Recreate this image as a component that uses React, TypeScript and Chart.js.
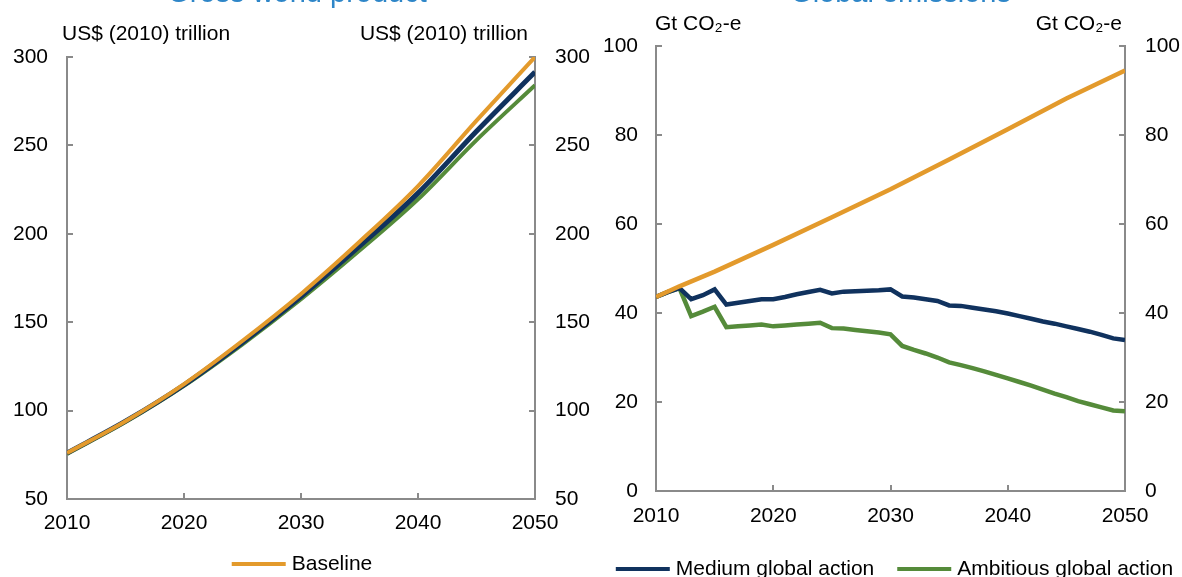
import React, { useEffect, useRef } from "react";
import { Chart, registerables } from "chart.js";

Chart.register(...registerables);

const FONT = "'Liberation Sans', Arial, sans-serif";
const AXIS_GREY = "#8a8a8a";
const ORANGE = "#E39A2C";
const NAVY = "#10325E";
const GREEN = "#558B3A";
const TITLE_BLUE = "#2E86C8";

// ---------- Data ----------
const xTickValues = [2010, 2020, 2030, 2040, 2050];
const gdpTickValues = [50, 100, 150, 200, 250, 300];
const emissionsTickValues = [0, 20, 40, 60, 80, 100];

const seriesLabels = ["Baseline", "Medium global action", "Ambitious global action"];

// Gross world product, US$ (2010) trillion
const gdpYears = [2010, 2015, 2020, 2025, 2030, 2035, 2040, 2045, 2050];
const gdpBaseline = [76, 94, 115, 139.5, 166, 195.5, 227, 264, 300];
const gdpMedium = [76, 94, 114.5, 138.5, 164.5, 193, 223, 258, 291.5];
const gdpAmbitious = [75.5, 93.5, 114, 137.5, 163, 190.5, 219.5, 253, 284];

// Global emissions, Gt CO2-e
const emissionsBaselineYears = [2010, 2012, 2015, 2020, 2025, 2030, 2035, 2040, 2045, 2050];
const emissionsBaseline = [43.6, 46.0, 49.3, 55.3, 61.5, 67.8, 74.5, 81.3, 88.2, 94.5];

const emissionsYears = [
  2010, 2011, 2012, 2013, 2014, 2015, 2016, 2017, 2018, 2019,
  2020, 2021, 2022, 2023, 2024, 2025, 2026, 2027, 2028, 2029,
  2030, 2031, 2032, 2033, 2034, 2035, 2036, 2037, 2038, 2039,
  2040, 2041, 2042, 2043, 2044, 2045, 2046, 2047, 2048, 2049, 2050,
];
const emissionsMedium = [
  43.6, 44.7, 45.6, 43.1, 44.0, 45.3, 41.9, 42.3, 42.7, 43.1,
  43.1, 43.6, 44.2, 44.7, 45.2, 44.4, 44.8, 44.9, 45.0, 45.1,
  45.3, 43.7, 43.5, 43.1, 42.7, 41.7, 41.6, 41.2, 40.8, 40.4,
  39.9, 39.3, 38.7, 38.1, 37.6, 37.0, 36.4, 35.8, 35.1, 34.3, 33.9,
];
const emissionsAmbitious = [
  43.6, 44.7, 45.6, 39.3, 40.3, 41.4, 36.8, 37.0, 37.2, 37.4,
  37.0, 37.2, 37.4, 37.6, 37.8, 36.6, 36.5, 36.2, 35.9, 35.6,
  35.2, 32.6, 31.7, 30.9, 30.0, 28.9, 28.3, 27.6, 26.9, 26.1,
  25.3, 24.5, 23.7, 22.8, 21.9, 21.1, 20.2, 19.5, 18.8, 18.1, 17.9,
];

const toPoints = (xs: number[], ys: number[]) => xs.map((x, i) => ({ x, y: ys[i] }));

// ---------- Plugin: title, unit labels, legend ----------
const panelText = {
  id: "panelText",
  afterDraw(chart: any, _args: any, opts: any) {
    const { ctx, chartArea } = chart;
    const cx = (chartArea.left + chartArea.right) / 2;
    ctx.save();
    // title (cut off at top of page, as in the reference)
    ctx.font = `29px ${FONT}`;
    ctx.fillStyle = TITLE_BLUE;
    ctx.textAlign = "center";
    ctx.textBaseline = "alphabetic";
    ctx.fillText(opts.title, cx + opts.titleShift, opts.titleBaseline);

    // unit labels
    ctx.font = `21px ${FONT}`;
    ctx.fillStyle = "#000";
    ctx.textBaseline = "middle";
    const uy = chartArea.top - opts.unitGap;
    ctx.textAlign = "left";
    ctx.fillText(opts.unit, chartArea.left - opts.unitInsetLeft, uy);
    ctx.textAlign = "right";
    ctx.fillText(opts.unit, chartArea.right - opts.unitInsetRight, uy);

    // legend
    const lineLen = 54;
    const textGap = 6;
    const itemGap = 23;
    const items = chart.data.datasets.filter((d: any) => opts.legendLabels.includes(d.label));
    const widths = items.map((d: any) => lineLen + textGap + ctx.measureText(d.label).width);
    const total = widths.reduce((a: number, b: number) => a + b, 0) + itemGap * (items.length - 1);
    let x = cx + opts.legendShift - total / 2;
    const ly = chart.height - opts.legendBottom;
    items.forEach((d: any, i: number) => {
      ctx.strokeStyle = d.borderColor;
      ctx.lineWidth = 4;
      ctx.lineCap = "butt";
      ctx.beginPath();
      ctx.moveTo(x, ly);
      ctx.lineTo(x + lineLen, ly);
      ctx.stroke();
      ctx.fillStyle = "#000";
      ctx.textAlign = "left";
      ctx.fillText(d.label, x + lineLen + textGap, ly);
      x += widths[i] + itemGap;
    });
    ctx.restore();
  },
};

function axisCommon(tickValues: number[], padding: number) {
  return {
    type: "linear" as const,
    afterBuildTicks: (axis: any) => {
      axis.ticks = tickValues.map((v) => ({ value: v }));
    },
    grid: {
      display: true,
      drawOnChartArea: false,
      drawTicks: true,
      tickLength: -6,
      color: AXIS_GREY,
      lineWidth: 2,
    },
    border: { display: true, color: AXIS_GREY, width: 2 },
    ticks: {
      padding,
      color: "#000",
      font: { size: 21, family: FONT },
      maxRotation: 0,
      autoSkip: false,
      callback: (v: any) => String(v),
    },
  };
}

function buildConfig(c: any) {
  return {
    type: "line" as const,
    data: { datasets: c.datasets },
    options: {
      animation: false,
      responsive: false,
      maintainAspectRatio: false,
      events: [],
      layout: { padding: { top: c.top, left: 0, right: 0, bottom: 0 } },
      elements: { point: { radius: 0 } },
      plugins: {
        legend: { display: false },
        tooltip: { enabled: false },
        title: { display: false },
        panelText: c.text,
      },
      scales: {
        x: {
          ...axisCommon(xTickValues, c.xPad),
          position: "bottom",
          min: 2010,
          max: 2050,
          afterFit: (s: any) => {
            s.height = c.xHeight;
          },
        },
        y: {
          ...axisCommon(c.yTicks, c.yPadL),
          position: "left",
          min: c.yMin,
          max: c.yMax,
          afterFit: (s: any) => {
            s.width = c.leftWidth;
          },
        },
        y2: {
          ...axisCommon(c.yTicks, c.yPadR),
          position: "right",
          min: c.yMin,
          max: c.yMax,
          afterFit: (s: any) => {
            s.width = c.rightWidth;
          },
        },
      },
    },
    plugins: [panelText],
  };
}

const gdpConfig = {
  top: 57,
  xHeight: 78,
  leftWidth: 67,
  rightWidth: 56,
  xPad: 18,
  yPadL: 25,
  yPadR: 26,
  yMin: 50,
  yMax: 300,
  yTicks: gdpTickValues,
  datasets: [
    { label: seriesLabels[0], data: toPoints(gdpYears, gdpBaseline), borderColor: ORANGE, backgroundColor: ORANGE, borderWidth: 4, cubicInterpolationMode: "monotone", yAxisID: "y" },
    { label: seriesLabels[1], data: toPoints(gdpYears, gdpMedium), borderColor: NAVY, backgroundColor: NAVY, borderWidth: 5, cubicInterpolationMode: "monotone", yAxisID: "y" },
    { label: seriesLabels[2], data: toPoints(gdpYears, gdpAmbitious), borderColor: GREEN, backgroundColor: GREEN, borderWidth: 4, cubicInterpolationMode: "monotone", yAxisID: "y" },
  ],
  text: {
    title: "Gross world product",
    titleShift: -4,
    titleBaseline: 1.5,
    unit: "US$ (2010) trillion",
    unitGap: 23,
    unitInsetLeft: 5,
    unitInsetRight: 7,
    legendLabels: [seriesLabels[0]],
    legendShift: 1,
    legendBottom: 13,
  },
};

const emissionsConfig = {
  top: 46,
  xHeight: 86,
  leftWidth: 65,
  rightWidth: 57,
  xPad: 19,
  yPadL: 24,
  yPadR: 26,
  yMin: 0,
  yMax: 100,
  yTicks: emissionsTickValues,
  datasets: [
    { label: seriesLabels[0], data: toPoints(emissionsBaselineYears, emissionsBaseline), borderColor: ORANGE, backgroundColor: ORANGE, borderWidth: 4.5, tension: 0, yAxisID: "y" },
    { label: seriesLabels[1], data: toPoints(emissionsYears, emissionsMedium), borderColor: NAVY, backgroundColor: NAVY, borderWidth: 4.5, tension: 0, yAxisID: "y" },
    { label: seriesLabels[2], data: toPoints(emissionsYears, emissionsAmbitious), borderColor: GREEN, backgroundColor: GREEN, borderWidth: 4.5, tension: 0, yAxisID: "y" },
  ],
  text: {
    title: "Global emissions",
    titleShift: 10,
    titleBaseline: 1.5,
    unit: "Gt CO\u2082-e",
    unitGap: 22,
    unitInsetLeft: 1,
    unitInsetRight: 3,
    legendLabels: [seriesLabels[1], seriesLabels[2]],
    legendShift: 4,
    legendBottom: 8,
  },
};

function ChartPanel({ config, left }: { config: any; left: number }) {
  const ref = useRef<HTMLCanvasElement | null>(null);
  useEffect(() => {
    if (!ref.current) return;
    const chart = new Chart(ref.current, buildConfig(config) as any);
    return () => chart.destroy();
  }, [config]);
  return (
    <canvas
      ref={ref}
      width={591}
      height={577}
      style={{ position: "absolute", left, top: 0, width: 591, height: 577, display: "block" }}
    />
  );
}

export default function App() {
  return (
    <div
      style={{
        position: "fixed",
        left: 0,
        top: 0,
        width: 1182,
        height: 577,
        background: "#fff",
        overflow: "hidden",
      }}
    >
      <ChartPanel config={gdpConfig} left={0} />
      <ChartPanel config={emissionsConfig} left={591} />
    </div>
  );
}
